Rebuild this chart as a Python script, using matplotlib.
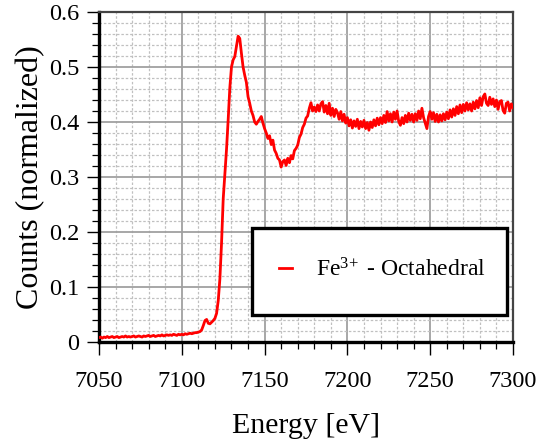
import numpy as np
import matplotlib
matplotlib.use("Agg")
import matplotlib.pyplot as plt
from matplotlib.patches import Rectangle
from matplotlib.ticker import MultipleLocator

plt.rcParams['font.family'] = ['Liberation Serif', 'DejaVu Serif']
plt.rcParams['mathtext.fontset'] = 'custom'
plt.rcParams['mathtext.rm'] = 'Liberation Serif'
plt.rcParams['mathtext.it'] = 'Liberation Serif:italic'

# Energy grid (1 eV step) and normalized counts
energy_start = 7050
counts = [
    0.008, 0.009, 0.007, 0.009, 0.008, 0.010, 0.008, 0.009, 0.010, 0.008,
    0.009, 0.010, 0.008, 0.009, 0.010, 0.009, 0.011, 0.009, 0.010, 0.009,
    0.010, 0.011, 0.009, 0.010, 0.011, 0.010, 0.009, 0.011, 0.010, 0.011,
    0.012, 0.010, 0.011, 0.012, 0.010, 0.011, 0.012, 0.011, 0.013, 0.011,
    0.012, 0.013, 0.012, 0.013, 0.012, 0.014, 0.013, 0.012, 0.014, 0.013,
    # 7100
    0.014, 0.013, 0.015, 0.014, 0.015, 0.016, 0.015, 0.016, 0.017, 0.017,
    # 7110
    0.018, 0.019, 0.022, 0.030, 0.039, 0.041, 0.034, 0.033, 0.036, 0.039,
    # 7120
    0.043, 0.052, 0.075, 0.115, 0.180, 0.260, 0.305, 0.350, 0.404, 0.462,
    # 7130
    0.500, 0.513, 0.519, 0.537, 0.556, 0.552, 0.525, 0.500, 0.485, 0.472,
    # 7140
    0.446, 0.434, 0.420, 0.412, 0.400, 0.396, 0.401, 0.405, 0.410, 0.398,
    # 7150
    0.388, 0.380, 0.370, 0.375, 0.359, 0.367, 0.349, 0.343, 0.334, 0.331,
    # 7160
    0.318, 0.328, 0.331, 0.321, 0.334, 0.326, 0.339, 0.333, 0.348, 0.352,
    # 7170
    0.358, 0.372, 0.378, 0.390, 0.396, 0.407, 0.411, 0.425, 0.435, 0.420,
    # 7180
    0.427, 0.419, 0.431, 0.420, 0.433, 0.437, 0.418, 0.430, 0.415, 0.434,
    # 7190
    0.412, 0.425, 0.410, 0.423, 0.417, 0.405, 0.419, 0.402, 0.414, 0.398,
    # 7200
    0.408, 0.393, 0.404, 0.389, 0.402, 0.392, 0.405, 0.388, 0.401, 0.391,
    # 7210
    0.403, 0.388, 0.399, 0.385, 0.400, 0.390, 0.404, 0.393, 0.407, 0.395,
    # 7220
    0.408, 0.397, 0.412, 0.399, 0.419, 0.402, 0.415, 0.400, 0.418, 0.405,
    # 7230
    0.420, 0.401, 0.394, 0.408, 0.397, 0.412, 0.400, 0.416, 0.403, 0.414,
    # 7240
    0.400, 0.415, 0.403, 0.420, 0.406, 0.425, 0.408, 0.398, 0.388, 0.410,
    # 7250
    0.419, 0.405, 0.417, 0.401, 0.414, 0.400, 0.413, 0.402, 0.415, 0.404,
    # 7260
    0.418, 0.406, 0.422, 0.409, 0.424, 0.412, 0.428, 0.415, 0.431, 0.417,
    # 7270
    0.432, 0.420, 0.435, 0.422, 0.433, 0.420, 0.436, 0.424, 0.439, 0.426,
    # 7280
    0.444, 0.430, 0.446, 0.451, 0.434, 0.430, 0.445, 0.432, 0.442, 0.428,
    # 7290
    0.440, 0.423, 0.437, 0.439, 0.421, 0.416, 0.434, 0.436, 0.420, 0.433,
    # 7300
    0.426,
]
energy = np.arange(energy_start, energy_start + len(counts))

series_label = r'Fe$^{3\!+}$ - Octahedral'
x_label = 'Energy [eV]'
y_label = 'Counts (normalized)'
y_tick_values = [0, 0.1, 0.2, 0.3, 0.4, 0.5, 0.6]
y_tick_labels = ['0', '0.1', '0.2', '0.3', '0.4', '0.5', '0.6']

fig = plt.figure(figsize=(5.4, 4.4), dpi=100)
ax = fig.add_axes([99/540, 1 - 342/440, 414/540, 330/440])

ax.plot(energy, counts, color='#ff0000', lw=2.0, zorder=3, label=series_label)

ax.set_xlim(7050, 7300)
ax.set_ylim(0, 0.6)
ax.xaxis.set_major_locator(MultipleLocator(50))
ax.xaxis.set_minor_locator(MultipleLocator(10))
ax.set_yticks(y_tick_values)
ax.set_yticklabels(y_tick_labels)
ax.yaxis.set_minor_locator(MultipleLocator(0.02))

ax.grid(which='major', color='#a0a0a0', lw=1.3, ls='-', zorder=1)
ax.grid(which='minor', color='#c0c0c0', lw=0.9, ls=(0, (2, 1.5)), zorder=1)
ax.set_axisbelow(True)

ax.tick_params(axis='both', which='major', direction='out', length=9, width=1.0,
               labelsize=17.5, pad=5, colors='black')
ax.tick_params(axis='both', which='minor', direction='out', length=5, width=0.9)
ax.tick_params(axis='x', which='major', pad=12)

for s in ['left', 'bottom']:
    ax.spines[s].set_linewidth(2.4)
    ax.spines[s].set_color('black')
for s in ['top', 'right']:
    ax.spines[s].set_linewidth(1.6)
    ax.spines[s].set_color('#444444')

ax.set_xlabel(x_label, fontsize=21.5, labelpad=15)
ax.set_ylabel(y_label, fontsize=23, labelpad=3)

# legend box
box = Rectangle((0.370, 0.082), 0.616, 0.263, transform=ax.transAxes,
                facecolor='white', edgecolor='black', lw=2.4, zorder=4)
ax.add_patch(box)
leg = ax.legend(loc='center left', bbox_to_anchor=(0.435, 0.218), frameon=False,
                fontsize=17, handlelength=0.55, handletextpad=1.0,
                borderpad=0, borderaxespad=0)
leg.set_zorder(5)

fig.savefig('out.png', dpi=100)
